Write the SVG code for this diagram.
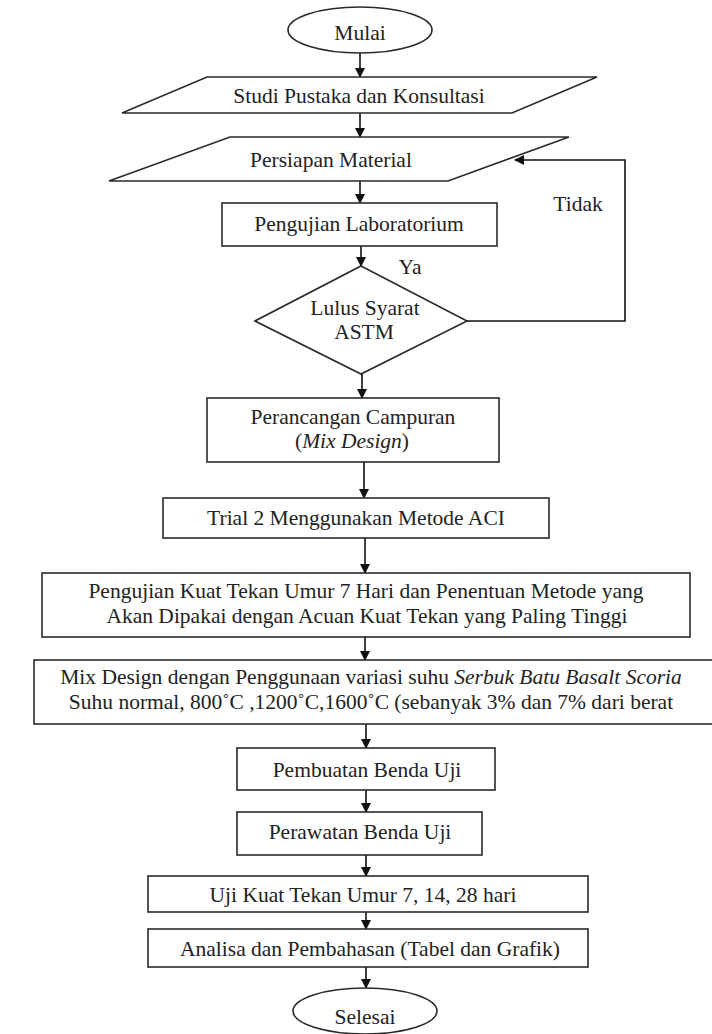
<svg xmlns="http://www.w3.org/2000/svg" width="712" height="1034" viewBox="0 0 712 1034">
<defs>
<marker id="ah" markerWidth="10" markerHeight="10" refX="9" refY="5" orient="auto" markerUnits="userSpaceOnUse">
<path d="M0,0 L10,5 L0,10 Z" fill="#111"/>
</marker>
<style>
.s{fill:#fff;stroke:#2a2a2a;stroke-width:1.6}
.t{font-family:"Liberation Serif","Times New Roman",serif;font-size:21.5px;fill:#222;text-anchor:middle}
.l{fill:none;stroke:#111;stroke-width:1.6}
.i{font-style:italic}
</style>
</defs>
<rect width="712" height="1034" fill="#fff"/>
<g id="connectors">
<line class="l" x1="360" y1="53" x2="360" y2="77" marker-end="url(#ah)"/>
<line class="l" x1="360" y1="113" x2="360" y2="137" marker-end="url(#ah)"/>
<line class="l" x1="360" y1="181" x2="360" y2="203" marker-end="url(#ah)"/>
<line class="l" x1="361" y1="246" x2="361" y2="266" marker-end="url(#ah)"/>
<polyline class="l" points="467,321 625,321 625,160 515,160" marker-end="url(#ah)"/>
<line class="l" x1="362" y1="374" x2="362" y2="398" marker-end="url(#ah)"/>
<line class="l" x1="364" y1="462" x2="364" y2="498" marker-end="url(#ah)"/>
<line class="l" x1="365" y1="538" x2="365" y2="573" marker-end="url(#ah)"/>
<line class="l" x1="365" y1="637" x2="365" y2="660" marker-end="url(#ah)"/>
<line class="l" x1="366" y1="724" x2="366" y2="748" marker-end="url(#ah)"/>
<line class="l" x1="366" y1="790" x2="366" y2="812" marker-end="url(#ah)"/>
<line class="l" x1="366" y1="855" x2="366" y2="876" marker-end="url(#ah)"/>
<line class="l" x1="366" y1="912" x2="366" y2="929" marker-end="url(#ah)"/>
<line class="l" x1="366" y1="967" x2="366" y2="988" marker-end="url(#ah)"/>
<text class="t" x="410" y="274">Ya</text>
<text class="t" x="578" y="211">Tidak</text>
</g>
<g id="mulai">
<ellipse class="s" cx="360" cy="30" rx="72" ry="23"/>
<text class="t" x="360" y="40">Mulai</text>
</g>
<g id="studi">
<polygon class="s" points="207,77 597,77 512,113 122,113"/>
<text class="t" x="359" y="103">Studi Pustaka dan Konsultasi</text>
</g>
<g id="persiapan">
<polygon class="s" points="230,137 569,137 448,181 109,181"/>
<text class="t" x="331" y="167">Persiapan Material</text>
</g>
<g id="pengujian-lab">
<rect class="s" x="222" y="203" width="275" height="43"/>
<text class="t" x="359" y="231">Pengujian Laboratorium</text>
</g>
<g id="lulus">
<polygon class="s" points="361,266 467,321 361,374 255,321"/>
<text class="t" x="365" y="315">Lulus Syarat</text>
<text class="t" x="364" y="339">ASTM</text>
</g>
<g id="perancangan">
<rect class="s" x="207" y="398" width="292" height="64"/>
<text class="t" x="353" y="424">Perancangan Campuran</text>
<text class="t" x="352" y="448">(<tspan class="i">Mix Design</tspan>)</text>
</g>
<g id="trial">
<rect class="s" x="163" y="498" width="386" height="40"/>
<text class="t" x="356" y="525">Trial 2 Menggunakan Metode ACI</text>
</g>
<g id="kuat-tekan-7">
<rect class="s" x="42" y="573" width="648" height="64"/>
<text class="t" x="366" y="598">Pengujian Kuat Tekan Umur 7 Hari dan Penentuan Metode yang</text>
<text class="t" x="367" y="623">Akan Dipakai dengan Acuan Kuat Tekan yang Paling Tinggi</text>
</g>
<g id="mix-design">
<rect class="s" x="34" y="660" width="700" height="64"/>
<text class="t" x="371" y="684">Mix Design dengan Penggunaan variasi suhu <tspan class="i">Serbuk Batu Basalt Scoria</tspan></text>
<text class="t" x="371" y="709">Suhu normal, 800˚C ,1200˚C,1600˚C (sebanyak 3% dan 7% dari berat</text>
</g>
<g id="pembuatan">
<rect class="s" x="237" y="748" width="258" height="42"/>
<text class="t" x="367" y="777">Pembuatan Benda Uji</text>
</g>
<g id="perawatan">
<rect class="s" x="237" y="812" width="245" height="43"/>
<text class="t" x="360" y="839">Perawatan Benda Uji</text>
</g>
<g id="uji">
<rect class="s" x="148" y="876" width="440" height="36"/>
<text class="t" x="363" y="902">Uji Kuat Tekan Umur 7, 14, 28 hari</text>
</g>
<g id="analisa">
<rect class="s" x="148" y="929" width="440" height="38"/>
<text class="t" x="370" y="956">Analisa dan Pembahasan (Tabel dan Grafik)</text>
</g>
<g id="selesai">
<ellipse class="s" cx="365" cy="1011" rx="72" ry="23"/>
<text class="t" x="365" y="1024">Selesai</text>
</g>
</svg>
